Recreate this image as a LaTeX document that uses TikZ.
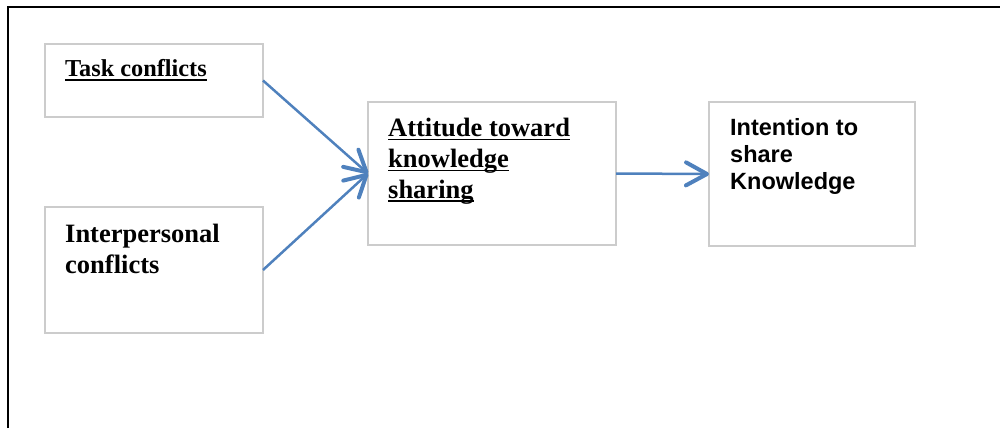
\documentclass[tikz,border=0pt]{standalone}
\usepackage{fontspec}
\setmainfont{Liberation Serif}
\newfontfamily\arialfont{Liberation Sans}
\usetikzlibrary{arrows.meta}
\definecolor{arrowblue}{RGB}{79,129,189}
\definecolor{boxgray}{RGB}{204,204,204}
\newcommand\myul[1]{\setbox0\hbox{#1}\rlap{\rule[-3.6pt]{\wd0}{1.3pt}}\box0}
\begin{document}
\begin{tikzpicture}[x=1pt,y=-1pt,
  boxnode/.style={draw=boxgray, line width=1.8pt, inner sep=0pt, outer sep=0pt, anchor=north west, rectangle},
  serif/.style={font=\fontsize{26.5}{30.7}\selectfont\bfseries, anchor=base west, inner sep=0pt, align=left},
  sans/.style={font=\arialfont\fontsize{23.5}{27}\selectfont\bfseries, anchor=base west, inner sep=0pt, align=left},
  conn/.style={draw=arrowblue, line width=2.5pt, -{Straight Barb[length=21pt,width=23pt,line width=4pt,round]}}]
\useasboundingbox (0,0) rectangle (1000,428);
\draw[line width=2pt] (7.5,428) -- (7.5,7.5) -- (1000,7.5);
\node[boxnode, minimum width=218pt, minimum height=73pt] (b1) at (45,44) {};
\node[boxnode, minimum width=218pt, minimum height=126pt] (b2) at (45,207) {};
\node[boxnode, minimum width=248pt, minimum height=143pt] (b3) at (368,102) {};
\node[boxnode, minimum width=206pt, minimum height=144pt] (b4) at (709,102) {};
\node[serif, font=\fontsize{24.3}{29}\selectfont\bfseries] (t1) at (65,77) {\myul{Task conflicts}};
\node[serif] (t2) at (65,273) {Interpersonal\\conflicts};
\node[serif] (t3) at (388,198) {\myul{Attitude toward}\\\myul{knowledge}\\\myul{sharing}};
\node[sans] (t4) at (730,189) {Intention to\\share\\Knowledge};
\draw[conn] (b1.east) -- (b3.west);
\draw[conn] (b2.east) -- (b3.west);
\draw[conn] (b3.east) -- (b4.west);
\end{tikzpicture}
\end{document}
